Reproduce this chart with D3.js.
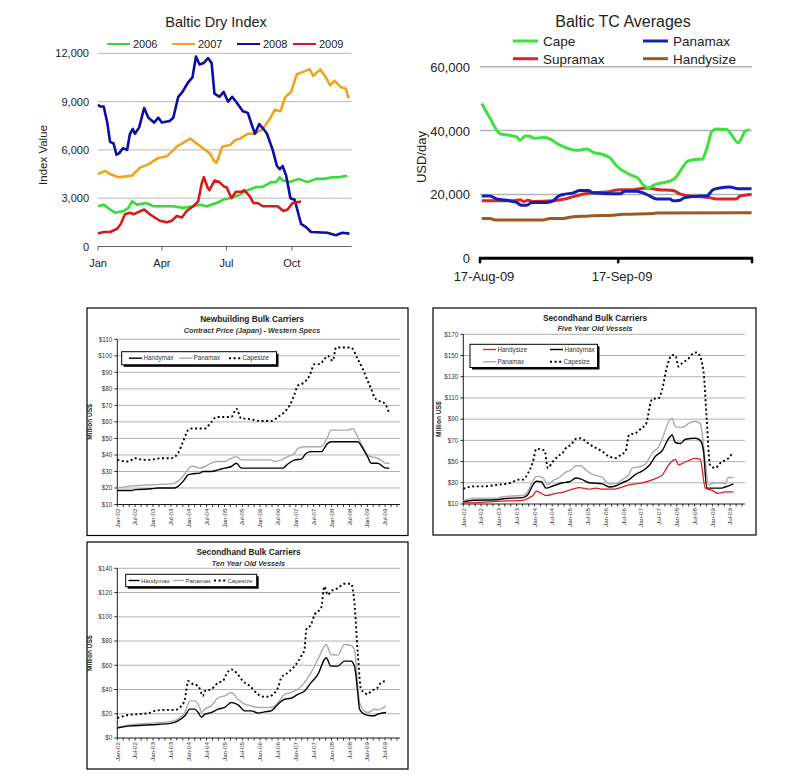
<!DOCTYPE html>
<html><head><meta charset="utf-8">
<script src="https://cdn.jsdelivr.net/npm/d3@7"></script>
<style>body{margin:0;background:#fff}svg{display:block}text{font-family:"Liberation Sans",Arial,sans-serif}</style>
</head><body><svg id="c" width="787" height="779"></svg>
<script>
// ---------- DATA ----------
// Baltic Dry Index: [day of year, index value]
const bdiYears = ["2006","2007","2008","2009"];
const bdiMonthLabels = ["Jan","Apr","Jul","Oct"];
const bdiMonthDays = [0,90,181,273];
const bdiYTicks = [0,3000,6000,9000,12000];
const bdi2006 = [[0,2500],[8,2600],[17,2300],[24,2100],[36,2200],[43,2400],[48,2800],[55,2600],[68,2700],[78,2500],[106,2500],[120,2400],[134,2500],[143,2600],[153,2500],[167,2700],[176,2900],[185,3000],[199,3200],[211,3500],[223,3700],[232,3700],[244,4000],[251,4000],[256,4300],[260,4100],[270,4000],[283,4200],[295,4000],[307,4200],[318,4200],[330,4300],[339,4300],[351,4400]];
const bdi2007 = [[0,4500],[10,4700],[17,4500],[29,4300],[48,4400],[59,4900],[71,5100],[85,5500],[97,5600],[111,6200],[122,6500],[130,6700],[139,6400],[148,6100],[157,5800],[164,5300],[167,5200],[175,6200],[186,6300],[193,6600],[200,6700],[211,7000],[221,7000],[232,7300],[243,8000],[249,8500],[257,8400],[264,9300],[272,9600],[280,10700],[286,10800],[298,11000],[303,10600],[313,11000],[321,10500],[327,10000],[333,10300],[342,9900],[349,9800],[353,9200]];
const bdi2008 = [[0,8800],[3,8700],[8,8700],[13,7700],[17,6500],[22,6400],[26,5700],[30,5800],[35,6100],[41,6000],[45,7000],[49,7300],[52,7000],[58,7400],[65,8600],[71,8000],[79,7700],[85,8000],[90,7700],[101,7800],[106,8000],[113,9300],[119,9600],[127,10200],[133,10500],[138,11800],[143,11300],[149,11400],[155,11700],[160,11400],[164,9500],[171,9300],[177,9600],[183,9000],[189,9300],[196,8900],[204,8400],[211,8300],[217,7500],[221,7000],[227,7600],[233,7300],[238,7000],[246,6000],[252,5000],[256,4800],[260,5000],[265,4400],[271,3000],[277,2900],[286,1400],[293,1200],[300,900],[323,850],[335,700],[344,850],[354,800]];
const bdi2009 = [[0,800],[8,900],[17,900],[27,1100],[32,1400],[38,2000],[45,2100],[50,2000],[55,2100],[65,2300],[73,2000],[80,1800],[87,1600],[97,1500],[104,1600],[111,1900],[118,1800],[125,2200],[134,2500],[141,2800],[146,3900],[149,4300],[155,3600],[157,3500],[164,4100],[171,4000],[178,3700],[181,3700],[188,3000],[194,3400],[202,3400],[206,3500],[214,3100],[219,2700],[225,2700],[232,2500],[241,2500],[253,2500],[261,2200],[267,2300],[274,2700],[286,2800]];

// Baltic TC Averages: [days since 17-Aug-09, USD/day]
const tcNames = ["Cape","Panamax","Supramax","Handysize"];
const tcDateLabels = ["17-Aug-09","17-Sep-09"];
const tcDateDays = [0,31];
const tcYTicks = [0,20000,40000,60000];
const tcCape = [[0.4,48500],[2.2,44000],[4.5,39000],[6.7,38500],[8.2,38000],[9.0,37000],[10.1,38300],[11.2,38200],[12,37600],[14.2,37800],[15.7,37400],[17.2,36000],[18.7,35000],[20.2,34200],[21.7,33800],[23.9,34200],[25.4,33200],[27.6,32500],[29.1,31500],[30.6,29000],[32.5,27000],[34,26000],[35.5,25000],[36.6,23000],[37.9,22000],[38.8,22800],[40.3,23500],[42.6,24200],[43.7,25000],[45.2,28000],[46.7,30500],[48.9,31000],[49.7,31000],[51.2,36000],[51.9,39500],[53,40500],[55.3,40300],[56,39500],[57.9,36200],[58.6,37500],[59.4,39800],[60.5,40300]];
const tcPanamax = [[0.4,19500],[2.2,19500],[3.7,18600],[6.7,18000],[8.2,17500],[9.3,16600],[10.5,16600],[11.6,17500],[14.9,17500],[16.4,18000],[17.6,19500],[18.7,20000],[20.9,20500],[22.4,21200],[24.3,21200],[25.4,20500],[29.9,20200],[31.4,20200],[32.5,21000],[35.1,21000],[36.6,20500],[38.1,19500],[39.6,18600],[42.6,18600],[43.3,18000],[44.8,18200],[45.9,19000],[49.3,19500],[50.8,19500],[52.3,21500],[53.8,22000],[56,22300],[57.9,21800],[60.9,21800]];
const tcSupramax = [[0.4,18000],[2.2,18000],[7.5,18000],[9.0,18300],[9.7,17800],[10.8,18200],[11.9,17800],[16.4,18000],[18.7,18500],[20.9,19300],[23.9,20300],[28.4,20800],[31.4,21500],[34.4,21500],[37.3,22000],[40.3,21500],[43.3,21200],[44.8,20200],[47.1,19500],[49.3,19300],[51.5,19000],[53,18600],[57.5,18600],[58.3,19500],[60.9,20000]];
const tcHandysize = [[0.4,12500],[2.2,12500],[3.4,12000],[7.5,12000],[14.2,12000],[15.7,12500],[18.7,12500],[20.9,13000],[23.9,13200],[25.4,13300],[29.9,13500],[32.1,13800],[38.8,14000],[39.6,14200],[60.9,14300]];

// Bulk carrier price panels: [months since Jan-02, Million US$]
const halfYearLabels = ["Jan-02","Jul-02","Jan-03","Jul-03","Jan-04","Jul-04","Jan-05","Jul-05","Jan-06","Jul-06","Jan-07","Jul-07","Jan-08","Jul-08","Jan-09","Jul-09"];
const nbYTicks = [10,20,30,40,50,60,70,80,90,100,110];
const nbHandymax = [[0,18.5],[4.8,18.5],[5.9,19],[11.5,19.5],[13.7,20],[19.3,20],[20.4,21],[22.1,24],[23.8,28],[24.9,28.5],[27.7,29],[28.8,30],[31.6,30],[33.9,31],[36.1,32],[38.3,33],[40,35],[41.7,32],[51.7,32],[55.6,32],[57.3,34.5],[59.6,37],[61.8,37.5],[63.5,41],[65.1,42],[68.5,42],[70.7,47],[71.8,48],[80.8,48],[82.5,44],[84.1,39],[85.3,35],[87.5,35],[90.3,32],[91.4,32]];
const nbPanamax = [[0,20],[3.7,21],[7,21.5],[11.5,22],[18.2,22.5],[19.3,23],[21.6,26],[23.2,30],[24.9,33],[26,33],[27.7,32],[29.4,33],[31.6,35],[33.3,36],[36.1,36],[38.3,38],[40,39],[41.7,37],[51.7,37],[52.8,36],[55.1,37],[57.3,39],[59.6,41],[60.7,44],[62.9,45],[68.5,45],[70.7,51],[71.8,55],[77.4,55],[79.1,56],[80.8,51],[82.5,45],[84.1,40],[85.3,39],[87.5,38],[90.3,35],[91.4,35]];
const nbCapesize = [[0,37],[3.7,36],[5.9,38],[8.7,37],[10.4,37],[12.6,37.5],[14.9,38],[18.2,38],[20.4,41],[22.1,48],[23.8,55],[24.9,56],[29.4,56],[31.6,60],[33.3,63],[38.3,63],[40,68],[41.7,62],[42.8,62],[45,61.5],[48.4,60.5],[51.7,60.5],[54,63],[56.2,66],[57.9,70],[59.6,77],[60.7,82],[62.9,84],[64.6,88],[66.3,95],[68,95],[69.6,98],[70.7,100],[72.4,97],[73.5,105],[76.3,105],[78.5,105],[80.8,98],[82.5,92],[84.1,85],[85.3,80],[86.4,75],[87.5,73],[89.2,72],[90.3,70],[91.4,65]];

const sh5YTicks = [10,30,50,70,90,110,130,150,170];
const sh5Handysize = [[0,11],[5.6,11.5],[11.2,12.5],[20.1,13.5],[22.3,16],[23.5,18],[24.6,22],[25.7,21],[27.9,18],[31.3,20],[33.5,21],[36.9,24],[39.1,25.5],[42.5,24],[44.7,25],[46.9,24],[50.3,24],[52.5,25],[55.9,28],[60.3,30],[64.8,34],[67,37],[69.3,47],[71.5,52],[72.6,47],[73.7,48],[76,51],[78.2,53],[79.9,52],[81.6,25],[83.8,23],[86,20],[88.3,21.5],[91.1,21.5]];
const sh5Handymax = [[0,12],[3.4,13.5],[11.2,14],[13.4,15],[20.1,16],[21.8,19],[23.5,28],[24.6,31.5],[26.3,31],[27.9,25],[30.2,27],[33.5,30],[35.8,31],[38,34.5],[39.7,33.5],[42.5,30],[46.9,29],[49.2,26],[51.4,27],[53.6,30],[55.9,33],[58.1,38],[60.3,41],[62.6,46],[64.8,55],[67,60],[69.3,72],[70.4,75],[71.5,68],[73.2,67],[74.9,71],[78.2,72],[79.9,70],[81,60],[82.1,25],[84.9,25],[87.2,25],[88.3,26],[91.1,29]];
const sh5Panamax = [[0,13],[3.4,15.5],[11.2,15.5],[13.4,17],[20.1,18],[21.8,22],[23.5,32],[24.6,36],[26.8,35],[28.5,28],[30.2,32],[32.4,35],[34.6,40],[36.3,42],[38,46],[39.7,46],[41.3,42],[43.6,38],[46.9,35],[49.2,29],[51.4,29],[53.6,33],[55.9,38],[57,44],[59.2,45],[61.5,48],[63.7,58],[65.9,64],[68.2,80],[69.3,88],[70.4,91],[71.5,83],[73.7,82],[76,86],[78.2,88],[79.9,86],[81.6,50],[82.7,28],[84.9,30],[87.2,30],[88.3,29],[89.4,35],[91.1,35]];
const sh5Capesize = [[0,24.4],[3.4,26.6],[6.7,26.6],[11.2,28],[15.6,29.7],[19,33],[20.1,33],[21.8,39],[23.5,50],[24.6,62],[27.4,60.5],[28.5,44],[30.2,50],[32.4,56],[33.5,58],[34.6,62.7],[36.3,65.8],[38,71.4],[39.7,72],[41.3,69],[42.5,66.4],[46.9,59.5],[49.2,54.8],[51.4,53.3],[53.1,56.4],[54.7,59.5],[55.9,75.2],[58.1,76.8],[60.3,82.1],[61.5,84.6],[63.7,109],[65.9,109.7],[67,117.5],[68.7,139.5],[70.4,150.4],[71.5,150],[72.6,139.5],[73.7,142.6],[76,147.3],[77.1,151],[78.8,153],[79.3,152],[81,134.8],[82.1,89],[83.2,47],[84.9,43.9],[87.2,50],[88.8,51.7],[90.5,57]];

const sh10YTicks = [0,20,40,60,80,100,120,140];
const sh10Handymax = [[0,8.2],[3.7,9.8],[11.5,10.9],[18.2,12.3],[20.4,14.2],[22.7,18.3],[24.4,23.8],[26,23.8],[27.2,21],[28.3,17],[29.4,19.7],[31.6,21],[33.9,23.8],[36.1,25.2],[38.3,29.3],[40.6,27.3],[42.8,22.4],[45,22.4],[47.3,20.5],[49.5,21.6],[51.7,22.4],[54,27.9],[56.2,32],[58.4,32.8],[60.7,36],[62.9,38.8],[65.1,45.7],[67.4,52.5],[69.6,64.8],[70.2,66.2],[71.8,59.3],[74.1,59.3],[76.3,63.4],[78.5,63.4],[79.7,59.3],[80.8,37.5],[81.4,23.8],[83,19.7],[85.3,18.3],[86.4,18.3],[87.5,19.7],[90.3,21]];
const sh10Panamax = [[0,8.8],[3.7,10.7],[11.5,12.3],[18.2,13.7],[20.4,15.6],[22.7,21],[24.4,30.6],[26,30.6],[27.7,25.2],[28.3,21],[29.4,23.8],[31.6,26.5],[33.9,33.4],[36.1,34.7],[38.3,37.5],[40.6,32],[42.8,27.9],[45,26.5],[47.3,25.2],[51.7,25.2],[54,29.3],[56.2,36],[58.4,37.5],[60.7,40.2],[62.9,45.7],[65.1,53.9],[67.4,64.8],[69.6,75.7],[70.2,77.1],[71.8,68.9],[74.1,68.4],[76.3,77.1],[78.5,76.3],[79.7,73],[80.8,42.9],[81.4,29.3],[83,22.4],[84.1,21],[86.4,23.8],[87.5,23.2],[90.3,26.5]];
const sh10Capesize = [[0,16.4],[3.7,19],[7,19.7],[10.4,20.5],[12.6,22.4],[16,23.2],[19.3,23.2],[21.6,26.5],[22.7,32],[23.8,47],[25.5,44.3],[27.2,43],[28.8,34.7],[29.4,38.8],[31.6,40.2],[33.9,45.7],[35.5,47],[36.6,52.5],[38.3,56.6],[40,53.9],[42.2,47],[44.5,43],[47.3,36],[49.5,34],[51.2,34.2],[52.3,36],[54,41.6],[55.1,49.8],[57.3,53.9],[59.6,59.3],[61.8,67.5],[62.9,73],[63.5,89.4],[65.1,93.5],[66.3,101.7],[68.5,107.2],[69.6,125],[70.7,118],[71.8,121],[74.1,123.6],[76.3,127.2],[78.5,127.2],[79.7,111.3],[80.8,70.3],[81.9,40.2],[83,37.5],[84.1,36],[85.3,38.8],[87.5,41.6],[88.6,45.7],[90.3,47]];

// ---------- DRAW ----------
const svg = d3.select("#c");
svg.append("rect").attr("width",787).attr("height",779).attr("fill","#fff");

// ===== Panel 1: Baltic Dry Index =====
(function(){
  const g = svg.append("g");
  const x = d3.scaleLinear().domain([0,357]).range([98,351.5]);
  const y = d3.scaleLinear().domain([0,12000]).range([246.5,53.3]);
  const cols = ["#35dc35","#f2a21e","#0c0ca6","#d61a1a"];
  const series = [bdi2006,bdi2007,bdi2008,bdi2009];
  bdiYTicks.filter(v=>v>0).forEach(v=>{
    g.append("line").attr("x1",x(0)).attr("x2",x(357)).attr("y1",y(v)).attr("y2",y(v)).attr("stroke","#b8b8b8").attr("stroke-width",1);
  });
  g.append("line").attr("x1",x(0)).attr("x2",x(357)).attr("y1",y(0)).attr("y2",y(0)).attr("stroke","#666");
  bdiMonthDays.forEach((d,i)=>{
    g.append("line").attr("x1",x(d)).attr("x2",x(d)).attr("y1",y(0)).attr("y2",y(0)+4).attr("stroke","#666");
    g.append("text").attr("x",x(d)).attr("y",267).attr("text-anchor","middle").attr("font-size",11).attr("fill","#222").text(bdiMonthLabels[i]);
  });
  bdiYTicks.forEach(v=>{
    g.append("text").attr("x",89).attr("y",y(v)+4).attr("text-anchor","end").attr("font-size",11).attr("fill","#222").text(d3.format(",")(v));
  });
  const line = d3.line().x(d=>x(d[0])).y(d=>y(d[1]));
  series.forEach((s,i)=>{
    g.append("path").attr("d",line(s)).attr("fill","none").attr("stroke",cols[i]).attr("stroke-width",2.6).attr("stroke-linejoin","round");
  });
  g.append("text").attr("x",216).attr("y",27).attr("text-anchor","middle").attr("font-size",14.5).attr("fill","#222").text("Baltic Dry Index");
  const lx = [107,172,237,293];
  bdiYears.forEach((t,i)=>{
    g.append("line").attr("x1",lx[i]).attr("x2",lx[i]+23).attr("y1",44).attr("y2",44).attr("stroke",cols[i]).attr("stroke-width",2);
    g.append("text").attr("x",lx[i]+26).attr("y",48).attr("font-size",11).attr("fill","#222").text(t);
  });
  g.append("text").attr("transform","translate(47,155) rotate(-90)").attr("text-anchor","middle").attr("font-size",11.5).attr("fill","#222").text("Index Value");
})();

// ===== Panel 2: Baltic TC Averages =====
(function(){
  const g = svg.append("g");
  const x = d3.scaleLinear().domain([0,61]).range([480,752]);
  const y = d3.scaleLinear().domain([0,60000]).range([258.3,66.7]);
  const cols = ["#3de23d","#1020b0","#d62828","#9a5a20"];
  const series = [tcCape,tcPanamax,tcSupramax,tcHandysize];
  tcYTicks.filter(v=>v>0).forEach(v=>{
    g.append("line").attr("x1",x(0)).attr("x2",x(61)).attr("y1",y(v)).attr("y2",y(v)).attr("stroke","#b4b4b4").attr("stroke-width",1.6);
  });
  tcYTicks.forEach(v=>{
    g.append("text").attr("x",470).attr("y",y(v)+5).attr("text-anchor","end").attr("font-size",13).attr("fill","#222").text(d3.format(",")(v));
  });
  const line = d3.line().x(d=>x(d[0])).y(d=>y(d[1])).curve(d3.curveMonotoneX);
  [3,2,1,0].forEach(i=>{
    g.append("path").attr("d",line(series[i])).attr("fill","none").attr("stroke",cols[i]).attr("stroke-width",3).attr("stroke-linejoin","round");
  });
  g.append("line").attr("x1",x(0)-1).attr("x2",x(61)+1).attr("y1",y(0)).attr("y2",y(0)).attr("stroke","#000").attr("stroke-width",3);
  [0,31,61].forEach(d=>{
    g.append("line").attr("x1",x(d)).attr("x2",x(d)).attr("y1",y(0)).attr("y2",y(0)+5).attr("stroke","#000").attr("stroke-width",2.5);
  });
  tcDateDays.forEach((d,i)=>{
    g.append("text").attr("x",x(d)+4).attr("y",281).attr("text-anchor","middle").attr("font-size",13).attr("fill","#222").text(tcDateLabels[i]);
  });
  g.append("text").attr("x",623).attr("y",27).attr("text-anchor","middle").attr("font-size",16).attr("fill","#222").text("Baltic TC Averages");
  const lxs = [513,643,513,643], lys=[41,41,58.7,58.7];
  tcNames.forEach((t,i)=>{
    g.append("line").attr("x1",lxs[i]).attr("x2",lxs[i]+25).attr("y1",lys[i]).attr("y2",lys[i]).attr("stroke",cols[i]).attr("stroke-width",3);
    g.append("text").attr("x",lxs[i]+30).attr("y",lys[i]+5).attr("font-size",13.5).attr("fill","#222").text(t);
  });
  g.append("text").attr("transform","translate(426,157) rotate(-90)").attr("text-anchor","middle").attr("font-size",13).attr("fill","#222").text("USD/day");
})();

// ===== Panels 3-5: bulk carrier prices =====
const styles = {
  Handysize:{stroke:"#e01c1c",w:1.3,dash:null},
  Handymax:{stroke:"#000",w:1.4,dash:null},
  Panamax:{stroke:"#aaaaaa",w:1.4,dash:null},
  Capesize:{stroke:"#000",w:1.9,dash:"2,2.6"}
};
function pricePanel(c){
  const g = svg.append("g");
  g.append("rect").attr("x",c.box[0]).attr("y",c.box[1]).attr("width",c.box[2]-c.box[0]).attr("height",c.box[3]-c.box[1]).attr("fill","#fff").attr("stroke","#000").attr("stroke-width",1.2);
  const x = d3.scaleLinear().domain([0,95]).range([c.left,c.right]);
  const y = d3.scaleLinear().domain([c.yt[0],c.yt[c.yt.length-1]]).range([c.bottom,c.top]);
  c.yt.slice(1).forEach(v=>{
    g.append("line").attr("x1",c.left).attr("x2",c.right).attr("y1",y(v)).attr("y2",y(v)).attr("stroke","#a8a8a8").attr("stroke-width",0.9);
  });
  c.yt.forEach(v=>{
    g.append("line").attr("x1",c.left-3).attr("x2",c.left).attr("y1",y(v)).attr("y2",y(v)).attr("stroke","#000").attr("stroke-width",0.8);
    g.append("text").attr("x",c.left-5).attr("y",y(v)+2.3).attr("text-anchor","end").attr("font-size",6.3).attr("fill","#333").text("$"+v);
  });
  g.append("line").attr("x1",c.left).attr("x2",c.left).attr("y1",c.top).attr("y2",c.bottom).attr("stroke","#000").attr("stroke-width",0.9);
  g.append("line").attr("x1",c.left).attr("x2",c.right).attr("y1",c.bottom).attr("y2",c.bottom).attr("stroke","#000").attr("stroke-width",0.9);
  d3.range(0,96,2).forEach(m=>{
    g.append("line").attr("x1",x(m)).attr("x2",x(m)).attr("y1",c.bottom).attr("y2",c.bottom+2.5).attr("stroke","#000").attr("stroke-width",0.8);
  });
  halfYearLabels.forEach((t,i)=>{
    const px = x(i*6)+2.2, py = c.bottom+4;
    g.append("text").attr("transform",`translate(${px},${py}) rotate(-90)`).attr("text-anchor","end").attr("font-size",6.2).attr("fill","#333").text(t);
  });
  const line = d3.line().x(d=>x(d[0])).y(d=>y(d[1])).curve(d3.curveMonotoneX);
  c.series.forEach(s=>{
    const st = styles[s.name];
    const p = g.append("path").attr("d",line(s.data)).attr("fill","none").attr("stroke",st.stroke).attr("stroke-width",st.w).attr("stroke-linejoin","round");
    if(st.dash) p.attr("stroke-dasharray",st.dash);
  });
  g.append("text").attr("x",c.tx).attr("y",c.ty).attr("text-anchor","middle").attr("font-size",8.3).attr("font-weight","bold").attr("fill","#222").text(c.title);
  g.append("text").attr("x",c.tx).attr("y",c.ty+10.5).attr("text-anchor","middle").attr("font-size",7.3).attr("font-style","italic").attr("font-weight","bold").attr("fill","#333").text(c.subtitle);
  g.append("text").attr("transform",`translate(${c.ylx},${(c.top+c.bottom)/2}) rotate(-90)`).attr("text-anchor","middle").attr("font-size",6.6).attr("font-weight","bold").attr("fill","#222").text("Million US$");
  // legend
  const L = c.legend;
  g.append("rect").attr("x",L.box[0]+2).attr("y",L.box[1]+2).attr("width",L.box[2]-L.box[0]).attr("height",L.box[3]-L.box[1]).attr("fill","#000");
  g.append("rect").attr("x",L.box[0]).attr("y",L.box[1]).attr("width",L.box[2]-L.box[0]).attr("height",L.box[3]-L.box[1]).attr("fill","#fff").attr("stroke","#000").attr("stroke-width",1);
  L.items.forEach(it=>{
    const st = styles[it.name];
    const ln = g.append("line").attr("x1",it.x).attr("x2",it.x+it.len).attr("y1",it.y).attr("y2",it.y).attr("stroke",st.stroke).attr("stroke-width",st.dash?1.9:st.w);
    if(st.dash) ln.attr("stroke-dasharray",st.dash);
    g.append("text").attr("x",it.x+it.len+1.5).attr("y",it.y+2.2).attr("font-size",L.fs||6.3).attr("fill","#333").text(it.name);
  });
}

pricePanel({
  box:[87,308,408,535.5], left:117.3, right:400, top:339.3, bottom:504.5, yt:nbYTicks,
  title:"Newbuilding Bulk Carriers", subtitle:"Contract Price (Japan) - Western Specs", tx:252, ty:322, ylx:92,
  series:[{name:"Capesize",data:nbCapesize},{name:"Panamax",data:nbPanamax},{name:"Handymax",data:nbHandymax}],
  legend:{box:[121.7,351.7,276.5,364.8], items:[
    {name:"Handymax",x:129,y:358.2,len:13},
    {name:"Panamax",x:179,y:358.2,len:13},
    {name:"Capesize",x:229,y:358.2,len:12}]}
});
pricePanel({
  box:[433,308,756,535], left:463.3, right:745, top:334.3, bottom:504, yt:sh5YTicks,
  title:"Secondhand Bulk Carriers", subtitle:"Five Year Old Vessels", tx:595, ty:320.5, ylx:441,
  series:[{name:"Capesize",data:sh5Capesize},{name:"Panamax",data:sh5Panamax},{name:"Handymax",data:sh5Handymax},{name:"Handysize",data:sh5Handysize}],
  legend:{box:[470,344.3,597.5,367.5], items:[
    {name:"Handysize",x:483,y:349.5,len:13},
    {name:"Handymax",x:550,y:349.5,len:13},
    {name:"Panamax",x:483,y:361.8,len:13},
    {name:"Capesize",x:550,y:361.8,len:12}]}
});
pricePanel({
  box:[87,542,408,769], left:117.3, right:400, top:568.3, bottom:738, yt:sh10YTicks,
  title:"Secondhand Bulk Carriers", subtitle:"Ten Year Old Vessels", tx:248.5, ty:555, ylx:92,
  series:[{name:"Capesize",data:sh10Capesize},{name:"Panamax",data:sh10Panamax},{name:"Handymax",data:sh10Handymax}],
  legend:{box:[125.7,574.3,256.7,586.7], fs:6, items:[
    {name:"Handymax",x:128.5,y:580.5,len:11},
    {name:"Panamax",x:173,y:580.5,len:11},
    {name:"Capesize",x:214,y:580.5,len:12}]}
});
</script></body></html>
